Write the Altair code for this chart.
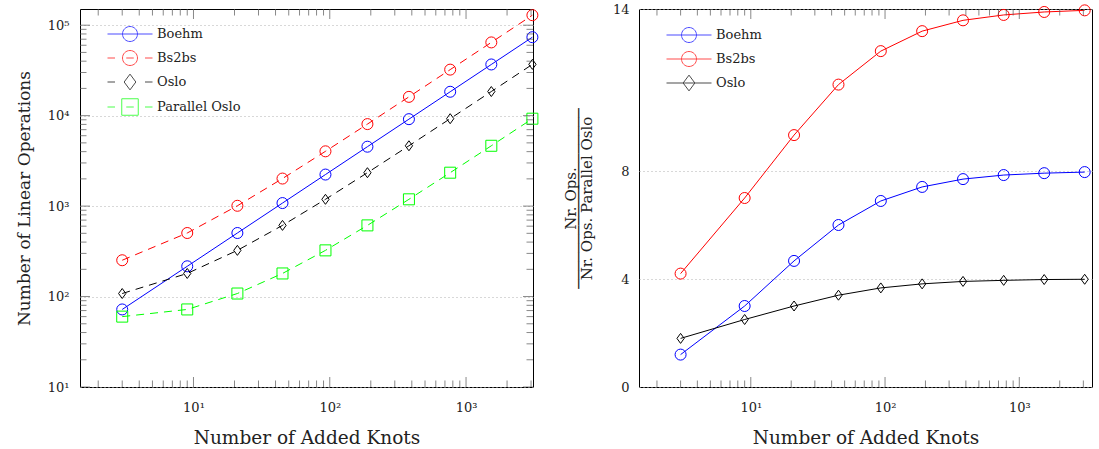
import altair as alt
import pandas as pd

FONT = "DejaVu Serif"

# ---------------- data ----------------
knots = [3, 9, 21, 45, 93, 189, 381, 765, 1533, 3069]

boehm_ops = [72, 216, 504, 1080, 2232, 4536, 9144, 18360, 36792, 73656]
bs2bs_ops = [252, 504, 1008, 2016, 4032, 8064, 16128, 32256, 64512, 129024]
oslo_ops = [108, 180, 324, 612, 1188, 2340, 4644, 9252, 18468, 36900]
parallel_oslo_ops = [60, 72, 108, 180, 324, 612, 1188, 2340, 4644, 9252]

boehm_ratio = [1.20, 3.00, 4.67, 6.00, 6.89, 7.41, 7.70, 7.85, 7.92, 7.96]
bs2bs_ratio = [4.20, 7.00, 9.33, 11.20, 12.44, 13.18, 13.58, 13.78, 13.89, 13.95]
oslo_ratio = [1.80, 2.50, 3.00, 3.40, 3.67, 3.82, 3.91, 3.95, 3.98, 3.99]

series_left = ["Boehm", "Bs2bs", "Oslo", "Parallel Oslo"]
series_right = ["Boehm", "Bs2bs", "Oslo"]

x_major = [10, 100, 1000]
x_minor = [2, 3, 4, 5, 6, 7, 8, 9, 20, 30, 40, 50, 60, 70, 80, 90,
           200, 300, 400, 500, 600, 700, 800, 900, 2000, 3000]
y_major_left = [10, 100, 1000, 10000, 100000]
y_minor_left = [20, 30, 40, 50, 60, 70, 80, 90, 200, 300, 400, 500, 600, 700, 800, 900,
                2000, 3000, 4000, 5000, 6000, 7000, 8000, 9000,
                20000, 30000, 40000, 50000, 60000, 70000, 80000, 90000]
y_ticks_right = [0, 4, 8, 14]

# ---------------- styles ----------------
W, H = 453, 378
COLORS = {"Boehm": "#0000ff", "Bs2bs": "#ff0000", "Oslo": "#000000", "Parallel Oslo": "#00ff00"}
DASH = [8, 6]
DIAMOND = "M0,-1 L0.73,0 L0,1 L-0.73,0 Z"
MARKERS = {"Boehm": ("circle", 121), "Bs2bs": ("circle", 121),
           "Oslo": (DIAMOND, 100), "Parallel Oslo": ("square", 121)}

CIRC = " M1,0 A1,1 0 1,1 -1,0 A1,1 0 1,1 1,0"
LDIAM = " M0,-1.05 L0.78,0 L0,1.05 L-0.78,0 Z"
LSQ = " M-1.1,-1.1 L1.1,-1.1 L1.1,1.1 L-1.1,1.1 Z"
SOLID = "M-3,0 L3,0"
DASHED_IN = "M-3,0 L-2,0 M-0.5,0 L0.5,0 M2,0 L3,0"
DASHED_OUT = "M-3,0 L-2,0 M2,0 L3,0"
LEG_LEFT = [SOLID + CIRC, DASHED_IN + CIRC, DASHED_OUT + LDIAM, DASHED_IN + LSQ]
LEG_RIGHT = [SOLID + CIRC, SOLID + CIRC, SOLID + LDIAM]

sup = {10: "10¹", 100: "10²", 1000: "10³", 10000: "10⁴", 100000: "10⁵"}
sup_expr = " : ".join(f"datum.value == {k} ? '{v}'" for k, v in sup.items()) + " : ''"

GRID = dict(grid=True, gridColor="#b0b0b0", gridDash=[1, 3], gridWidth=1)


def x_axis():
    return alt.Axis(values=x_major, labelExpr=sup_expr, ticks=False, domain=False, grid=False,
                    labelFont=FONT, labelFontSize=13, labelColor="#222", labelPadding=14,
                    title="Number of Added Knots", titleFont=FONT, titleFontSize=18.5,
                    titleFontWeight="normal", titleColor="#222", titlePadding=14)


def tick_layers(values, size, scale_x, scale_y, axx, axy, horizontal):
    df = pd.DataFrame({"v": values})
    out = []
    if not horizontal:
        for yv in (0, H):
            out.append(alt.Chart(df).mark_tick(orient="vertical", size=size, thickness=1,
                                               color="#555", clip=True)
                       .encode(x=alt.X("v:Q", scale=scale_x, axis=axx), y=alt.value(yv)))
    else:
        for xv in (0, W):
            out.append(alt.Chart(df).mark_tick(orient="horizontal", size=size, thickness=1,
                                               color="#555", clip=True)
                       .encode(y=alt.Y("v:Q", scale=scale_y, axis=axy), x=alt.value(xv)))
    return out


def panel(series, values, dashed, ycol, xs, ys, yaxis, legend_paths, legend_y, extra_ticks):
    layers = []
    for s, vals in zip(series, values):
        df = pd.DataFrame({"knots": knots, ycol: vals})
        lkw = dict(color=COLORS[s], strokeWidth=1)
        if dashed[s]:
            lkw["strokeDash"] = DASH
        enc = dict(x=alt.X("knots:Q", scale=xs, axis=x_axis()),
                   y=alt.Y(f"{ycol}:Q", scale=ys, axis=yaxis))
        layers.append(alt.Chart(df).mark_line(**lkw).encode(**enc))
        shp, sz = MARKERS[s]
        layers.append(alt.Chart(df).mark_point(shape=shp, size=sz, color=COLORS[s], filled=False,
                                               strokeWidth=1, opacity=1).encode(**enc))
    # legend layer (no visible marks: null positions)
    leg_df = pd.DataFrame({"series": series, "knots": [None] * len(series),
                           ycol: [None] * len(series)})
    leg = alt.Legend(title=None, orient="none", legendX=42, legendY=legend_y, padding=0,
                     symbolSize=225, symbolStrokeWidth=1, labelFont=FONT, labelFontSize=13,
                     labelColor="#222", labelOffset=19, rowPadding=4, symbolType="circle")
    layers.append(
        alt.Chart(leg_df).mark_point(filled=False, strokeWidth=1).encode(
            x=alt.X("knots:Q", scale=xs, axis=x_axis()),
            y=alt.Y(f"{ycol}:Q", scale=ys, axis=yaxis),
            color=alt.Color("series:N", scale=alt.Scale(domain=series, range=[COLORS[s] for s in series]),
                            legend=leg),
            shape=alt.Shape("series:N", scale=alt.Scale(domain=series, range=legend_paths), legend=leg),
        )
    )
    layers += tick_layers(x_major, 20, xs, ys, x_axis(), yaxis, False)
    layers += tick_layers(x_minor, 13, xs, ys, x_axis(), yaxis, False)
    layers += extra_ticks
    return alt.layer(*layers).properties(width=W, height=H)


# ---------------- left panel ----------------
xs_l = alt.Scale(type="log", domain=[1.47, 3100], nice=False)
ys_l = alt.Scale(type="log", domain=[10, 151000], nice=False)
yaxis_l = alt.Axis(values=y_major_left, labelExpr=sup_expr, ticks=False, domain=False,
                   labelFont=FONT, labelFontSize=13, labelColor="#222", labelPadding=11,
                   title="Number of Linear Operations", titleFont=FONT, titleFontSize=17,
                   titleFontWeight="normal", titleColor="#222", titlePadding=14, **GRID)
ticks_l = (tick_layers(y_major_left, 20, xs_l, ys_l, x_axis(), yaxis_l, True)
           + tick_layers(y_minor_left, 13, xs_l, ys_l, x_axis(), yaxis_l, True))
left = panel(series_left, [boehm_ops, bs2bs_ops, oslo_ops, parallel_oslo_ops],
             {"Boehm": False, "Bs2bs": True, "Oslo": True, "Parallel Oslo": True},
             "ops", xs_l, ys_l, yaxis_l, LEG_LEFT, 17, ticks_l)

# ---------------- right panel ----------------
xs_r = alt.Scale(type="log", domain=[1.47, 3480], nice=False)
ys_r = alt.Scale(type="linear", domain=[0, 14], nice=False, zero=True)
yaxis_r = alt.Axis(values=y_ticks_right, ticks=False, domain=False,
                   labelFont=FONT, labelFontSize=13, labelColor="#222", labelPadding=10,
                   title=["Nr. Ops.", "─" * 20, "Nr. Ops. Parallel Oslo"], titleFont=FONT,
                   titleFontSize=15, titleLineHeight=8, titleFontWeight="normal",
                   titleColor="#222", titlePadding=18, **GRID)
right = panel(series_right, [boehm_ratio, bs2bs_ratio, oslo_ratio],
              {"Boehm": False, "Bs2bs": False, "Oslo": False},
              "ratio", xs_r, ys_r, yaxis_r, LEG_RIGHT, 18, [])

chart = (
    alt.hconcat(left, right, spacing=21)
    .resolve_scale(color="independent", shape="independent")
    .resolve_legend(color="independent", shape="independent")
    .properties(padding={"left": 14, "top": 2, "right": 2, "bottom": 2}, background="white")
    .configure_view(stroke="#000000", strokeWidth=1)
)

chart.save("out.html", embed_options={"renderer": "svg", "actions": False})
